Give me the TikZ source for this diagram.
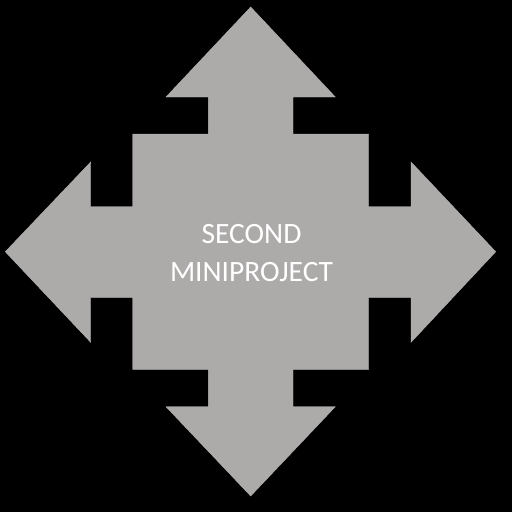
\documentclass[tikz,border=0pt]{standalone}
\usepackage{fontspec}
\setmainfont{Carlito}
\usepackage{tikz}
\usetikzlibrary{positioning}
\usepackage{xcolor}
\definecolor{arrowgray}{HTML}{ADAAAA}
\tikzset{
  quadarrow/.style={fill=arrowgray, draw=arrowgray!90!white, line width=0.4pt},
  title/.style={text=white, align=center, inner sep=0pt,
    font=\fontsize{29.5pt}{38.4pt}\selectfont},
}

\begin{document}
\begin{tikzpicture}[x=1pt, y=-1pt]

% Background
\fill[black] (0,0) rectangle (512,512);

% Four-way arrow (clockwise from the top tip)
\draw[quadarrow] (250.7,7) -- (335.3,97) -- (293,97) -- (293,134)
  -- (368.7,134) -- (368.7,206.7) -- (411,206.7) -- (411,162)
  -- (495.7,251.7) -- (411,342.3) -- (411,297.3) -- (368.7,297.3)
  -- (368.7,369.3) -- (293,369.3) -- (293,406.7) -- (335.3,406.7)
  -- (250.7,496) -- (166,406.7) -- (208.3,406.7) -- (208.3,369.3)
  -- (132.7,369.3) -- (132.7,297.3) -- (90.7,297.3) -- (90.7,342.3)
  -- (5.3,251.7) -- (90.7,162) -- (90.7,206.7) -- (132.7,206.7)
  -- (132.7,134) -- (208.3,134) -- (208.3,97) -- (166,97) -- cycle;

% Label
\node[title] (label) at (251.5,253.3) {SECOND\\MINIPROJECT};

\end{tikzpicture}
\end{document}
